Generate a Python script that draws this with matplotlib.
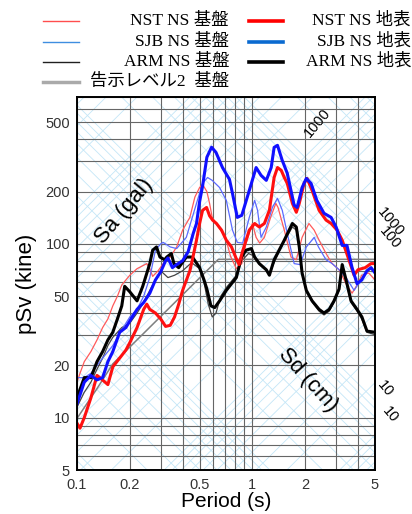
import matplotlib
matplotlib.use('Agg')
import numpy as np
import matplotlib.pyplot as plt
from matplotlib.lines import Line2D
from matplotlib.ticker import LogLocator, FixedLocator, FixedFormatter, NullFormatter

#==========================================================
# data
#==========================================================
# NST NS 地表 (thick red)
nst_surf_T = [0.1,0.104,0.11,0.12,0.13,0.135,0.15,0.16,0.175,0.19,0.2,0.22,0.24,0.25,0.26,0.28,0.3,0.32,0.34,0.36,0.38,0.4,0.44,0.456,0.48,0.5,0.52,0.548,0.57,0.593,0.624,0.667,0.71,0.76,0.81,0.84,0.877,0.96,1.03,1.095,1.17,1.25,1.33,1.39,1.46,1.52,1.58,1.69,1.78,1.85,1.97,2.05,2.19,2.4,2.63,2.81,3.04,3.25,3.55,3.8,4.0,4.4,4.74,5.0]
nst_surf_sv = [9.3,8.7,10,13,17.5,17,15.5,19.6,22,24.5,27,33,42,45,42,40,37,33.5,34,38,45,54,70,82,105,131,156,162,145,137,131,120,105,96,82,76,90,120,131,125,131,156,241,275,265,241,223,171,152,171,223,238,203,156,137,131,120,105,81,66,71,73,77,77]

# NST NS 基盤 (thin red)
nst_base_T = [0.1,0.104,0.11,0.12,0.13,0.14,0.15,0.16,0.17,0.18,0.19,0.2,0.22,0.25,0.26,0.27,0.29,0.31,0.34,0.37,0.4,0.44,0.47,0.5,0.52,0.55,0.57,0.59,0.64,0.7,0.75,0.81,0.87,0.92,1.0,1.05,1.1,1.17,1.27,1.36,1.4,1.52,1.66,1.78,1.92,2.1,2.25,2.4,2.63,2.85,3.12,3.42,3.7,3.95,4.2,4.6,5.0]
nst_base_sv = [16,18,21,24,28,33,37,44,50,58,62,66,72,77,72,65,70,77,84,96,120,142,186,211,220,200,171,142,125,110,85,72,77,101,131,109,101,109,142,171,162,120,84,81,109,131,120,105,88,77,71,59,52,58,66,68,62]

# SJB NS 地表 (thick blue)
sjb_surf_T = [0.1,0.11,0.12,0.13,0.14,0.15,0.16,0.175,0.19,0.2,0.22,0.24,0.26,0.28,0.3,0.32,0.33,0.35,0.37,0.4,0.43,0.46,0.48,0.5,0.52,0.55,0.585,0.62,0.675,0.74,0.77,0.82,0.87,0.96,1.05,1.12,1.2,1.28,1.33,1.39,1.48,1.58,1.73,1.8,1.92,2.03,2.16,2.33,2.56,2.81,3.0,3.25,3.46,3.7,3.95,4.2,4.5,4.75,5.0]
sjb_surf_sv = [12,16,17.5,16.5,17,21,24,31,33,36,42,46,52,62,69,80,83,73,76,80,90,115,131,175,215,315,360,336,275,235,195,142,146,203,275,248,232,275,359,369,302,255,167,162,211,238,223,178,150,142,125,98,98,73,59,62,70,73,68]

# SJB NS 基盤 (thin blue)
sjb_base_T = [0.1,0.11,0.12,0.13,0.14,0.15,0.16,0.18,0.2,0.22,0.24,0.26,0.28,0.3,0.31,0.34,0.37,0.42,0.48,0.52,0.555,0.59,0.65,0.71,0.77,0.82,0.88,0.96,1.03,1.07,1.12,1.2,1.3,1.39,1.48,1.58,1.73,1.87,2.03,2.25,2.38,2.63,2.85,3.12,3.42,3.8,4.15,4.6,5.0]
sjb_base_sv = [17,17,18,20,22,24,26,32,38,42,50,64,92,100,102,96,94,109,171,223,241,232,211,178,120,102,101,142,178,156,109,125,162,183,156,115,77,76,96,109,96,81,77,71,64,54,62,72,70]

# ARM NS 地表 (thick black)
arm_surf_T = [0.1,0.11,0.12,0.13,0.14,0.15,0.16,0.17,0.18,0.187,0.2,0.22,0.237,0.26,0.27,0.284,0.297,0.316,0.325,0.345,0.357,0.38,0.42,0.455,0.5,0.53,0.55,0.58,0.61,0.65,0.71,0.76,0.81,0.866,0.92,0.987,1.03,1.095,1.2,1.25,1.33,1.42,1.52,1.62,1.69,1.78,1.85,1.92,2.03,2.19,2.4,2.56,2.74,2.92,3.12,3.25,3.42,3.65,3.95,4.21,4.5,5.0]
arm_surf_sv = [13,17,17,21,24,28,31,37,44,57,53,47,57,77,92,96,84,81,84,88,77,73,84,84,73,62,55,44,43,47,54,59,64,84,92,94,84,77,71,66,81,92,105,120,131,125,96,68,54,47,42,40,42,47,55,76,62,47,42,38,31.5,31]

# ARM NS 基盤 (thin black)
arm_base_T = [0.1,0.11,0.12,0.13,0.14,0.15,0.16,0.18,0.2,0.22,0.24,0.26,0.28,0.3,0.33,0.36,0.4,0.45,0.5,0.53,0.56,0.59,0.62,0.66,0.71,0.76,0.81,0.87,0.95,1.0,1.1,1.2,1.25,1.33,1.42,1.52,1.62,1.69,1.78,1.85,1.92,2.03,2.2,2.4,2.56,2.74,2.92,3.12,3.25,3.42,3.65,3.95,4.2,4.5,5.0]
arm_base_sv = [11.5,14,16,19,22,26,29,33,35,40,46,54,62,70,64,66,70,78,72,60,45,38,40,50,56,61,66,80,88,86,76,70,67,78,90,103,116,125,120,94,67,53,46,41,39,41,46,54,72,60,46,41,37,31,30]

# 告示レベル2 基盤 (gray)
lv2_T = [0.1, 0.13, 0.16, 0.64, 5.0]
lv2_sv = [9.9, 14.7, 20.4, 81.5, 81.5]

xticks = [0.1, 0.2, 0.5, 1, 2, 5]
xticklabels = ['0.1', '0.2', '0.5', '1', '2', '5']
yticks = [5, 10, 20, 50, 100, 200, 500]
yticklabels = ['5', '10', '20', '50', '100', '200', '500']

#==========================================================
# figure
#==========================================================
W, H = 412., 514.
fig = plt.figure(figsize=(W/100, H/100), dpi=100)
ax = fig.add_axes([77/W, 44/H, 298/W, 373/H])
ax.set_xscale('log')
ax.set_yscale('log')

# tripartite diagonals (Sa in gal, Sd in cm)
tt = np.array([0.05, 10.0])
dcol = '#c4e6f7'
for n in range(-1, 5):
    for k in range(1, 10):
        sa = k*10.0**n
        ax.plot(tt, sa*tt/(2*np.pi), color=dcol, lw=0.6, zorder=1)
        sd = k*10.0**(n-2)
        ax.plot(tt, 2*np.pi*sd/tt, color=dcol, lw=0.6, zorder=1)

ax.set_xlim(0.1, 5)
ax.set_ylim(5, 700)

ax.xaxis.set_minor_locator(LogLocator(base=10, subs=np.arange(1, 10)))
ax.yaxis.set_minor_locator(LogLocator(base=10, subs=np.arange(1, 10)))
ax.xaxis.set_major_locator(FixedLocator(xticks))
ax.xaxis.set_major_formatter(FixedFormatter(xticklabels))
ax.yaxis.set_major_locator(FixedLocator(yticks))
ax.yaxis.set_major_formatter(FixedFormatter(yticklabels))
ax.xaxis.set_minor_formatter(NullFormatter())
ax.yaxis.set_minor_formatter(NullFormatter())
ax.grid(which='both', color='#666666', lw=0.8, zorder=2)
ax.tick_params(which='both', length=0, labelsize=10.5, labelcolor='#333333')
ax.tick_params(axis='x', pad=6)
ax.tick_params(axis='y', pad=5)
for lab in ax.get_xticklabels() + ax.get_yticklabels():
    lab.set_family('Liberation Sans')
for s in ax.spines.values():
    s.set_linewidth(1.4)
    s.set_zorder(10)

# curves
ax.plot(lv2_T, lv2_sv, color='#808080', lw=1.1, zorder=4)
ax.plot(arm_base_T, arm_base_sv, color='#454545', lw=0.9, zorder=4)
ax.plot(nst_base_T, nst_base_sv, color='#ff5a5a', lw=0.9, zorder=4)
ax.plot(sjb_base_T, sjb_base_sv, color='#5a6aff', lw=0.9, zorder=4)
ax.plot(arm_surf_T, arm_surf_sv, color='black', lw=2.2, zorder=5)
ax.plot(nst_surf_T, nst_surf_sv, color='#ff1010', lw=2.2, zorder=5)
ax.plot(sjb_surf_T, sjb_surf_sv, color='#1010ff', lw=2.2, zorder=5)

ax.set_xlabel('Period (s)', fontsize=15, family='Liberation Sans', labelpad=0)
ax.set_ylabel('pSv (kine)', fontsize=16, family='Liberation Sans', labelpad=6)

# diagonal axis labels
ax.text(0.185, 155, 'Sa (gal)', rotation=50, fontsize=16, family='Liberation Sans',
        ha='center', va='center', zorder=6)
ax.text(2.08, 16.5, 'Sd (cm)', rotation=-48, fontsize=16, family='Liberation Sans',
        ha='center', va='center', zorder=6)
ax.text(2.34, 497, '1000', rotation=50, fontsize=10.5, family='Liberation Sans',
        ha='center', va='center', zorder=6)
fig.text(391/W, 1-222/H, '1000', rotation=-50, fontsize=10.5, family='Liberation Sans',
         ha='center', va='center')
fig.text(390/W, 1-238/H, '100', rotation=-50, fontsize=10.5, family='Liberation Sans',
         ha='center', va='center')
fig.text(385/W, 1-389/H, '10', rotation=-50, fontsize=10.5, family='Liberation Sans',
         ha='center', va='center')
fig.text(390/W, 1-415/H, '10', rotation=-50, fontsize=10.5, family='Liberation Sans',
         ha='center', va='center')

#==========================================================
# legend (drawn in figure pixels)
#==========================================================
lfam = ['Liberation Serif', 'Noto Sans CJK JP']
leg1 = [('NST NS 基盤', '#ff4d4d', 1.0), ('SJB NS 基盤', '#3f8ee0', 1.0),
        ('ARM NS 基盤', '#202020', 1.0), ('告示レベル2  基盤', '#aaaaaa', 2.5)]
leg2 = [('NST NS 地表', '#ff0000', 2.6), ('SJB NS 地表', '#0a6ad0', 2.6),
        ('ARM NS 地表', '#000000', 2.6)]
rows = [21, 42, 62, 82]
for i, (lab, c, lw) in enumerate(leg1):
    y = 1 - rows[i]/H
    fig.add_artist(Line2D([43/W, 79/W], [y, y], color=c, lw=lw))
    fig.text(229/W, y, lab, ha='right', va='center', fontsize=12.5, family=lfam)
for i, (lab, c, lw) in enumerate(leg2):
    y = 1 - rows[i]/H
    fig.add_artist(Line2D([249/W, 283/W], [y, y], color=c, lw=lw))
    fig.text(411/W, y, lab, ha='right', va='center', fontsize=12.5, family=lfam)

plt.savefig('out.png', dpi=100)
